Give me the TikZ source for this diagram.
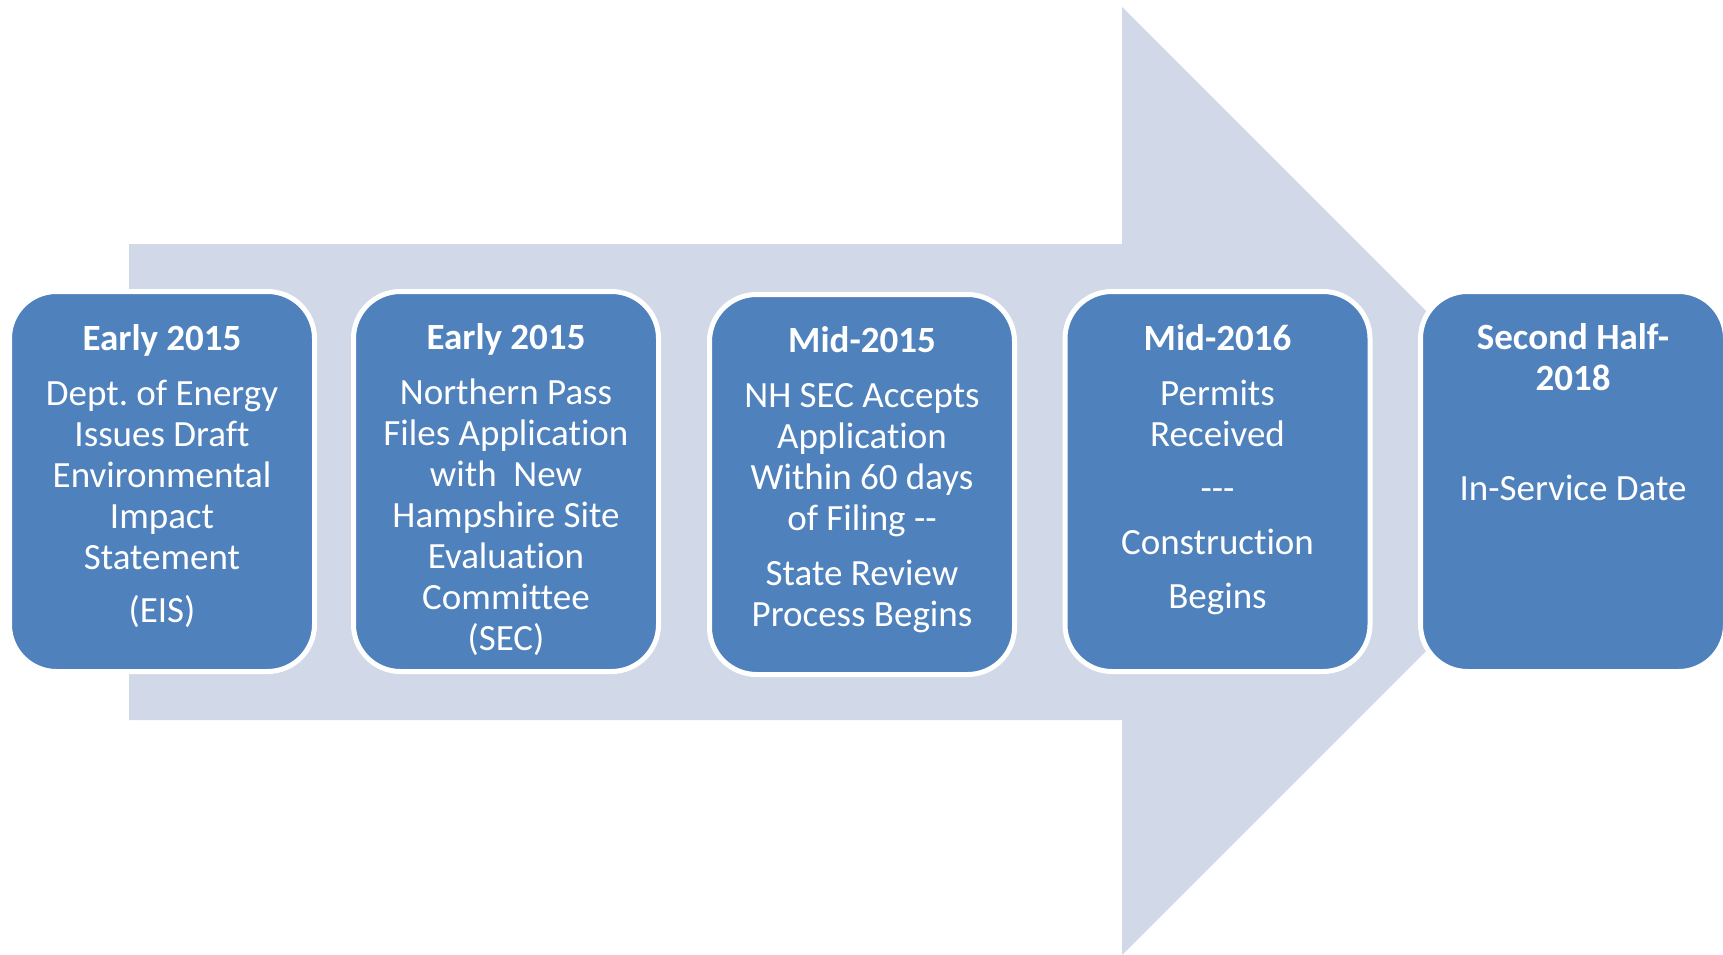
\documentclass[tikz,border=0pt]{standalone}
\usepackage{fontspec}
\setmainfont[Ligatures={TeX,NoCommon}]{Carlito}
\frenchspacing
\definecolor{arrowfill}{RGB}{209,216,232}
\definecolor{boxfill}{RGB}{79,129,189}

\begin{document}
\begin{tikzpicture}[x=1pt,y=-1pt,
  stepbox/.style={draw=white, line width=5pt, fill=boxfill, rounded corners=47pt,
    minimum width=305pt, minimum height=380pt, inner sep=0pt},
  % anchored on the baseline of the last line of each text
  steptext/.style={text=white, align=center, inner sep=0pt, anchor=base,
    font=\fontsize{37}{41}\selectfont},
]
\useasboundingbox (0,0) rectangle (1723,955);

% large background arrow
\fill[arrowfill] (129,244) -- (1122,244) -- (1122,7) -- (1596,481)
  -- (1122,955) -- (1122,720) -- (129,720) -- cycle;

% milestone boxes
\node[stepbox] (b1) at (162,481.5) {};
\node[stepbox] (b2) at (506,481.5) {};
\node[stepbox] (b3) at (862,484.5) {};
\node[stepbox] (b4) at (1217.5,481.5) {};
\node[stepbox] (b5) at (1573,481.5) {};

% milestone texts
\node[steptext, yshift=-140.5pt] (t1) at (b1.center) {\textbf{Early 2015}\\[14pt]
  Dept. of Energy\\ Issues Draft\\ Environmental\\ Impact\\ Statement\\[12pt] (EIS)};
\node[steptext, yshift=-168.5pt] (t2) at (b2.center) {\textbf{Early 2015}\\[14pt]
  Northern Pass\\ Files Application\\ with \ New\\ Hampshire Site\\ Evaluation\\ Committee\\ (SEC)};
\node[steptext, yshift=-142pt] (t3) at (b3.center) {\textbf{Mid-2015}\\[14pt]
  NH SEC Accepts\\ Application\\ Within 60 days\\ of Filing -{}-\\[14pt] State Review\\ Process Begins};
\node[steptext, yshift=-127pt] (t4) at (b4.center) {\textbf{Mid-2016}\\[14pt]
  Permits\\ Received\\[13pt] -{}-{}-\\[13pt] Construction\\[13pt] Begins};
\node[steptext, yshift=-18.5pt] (t5) at (b5.center) {\textbf{Second Half-}\\ \textbf{2018}\\[69pt]
  In-Service Date};
\end{tikzpicture}
\end{document}
